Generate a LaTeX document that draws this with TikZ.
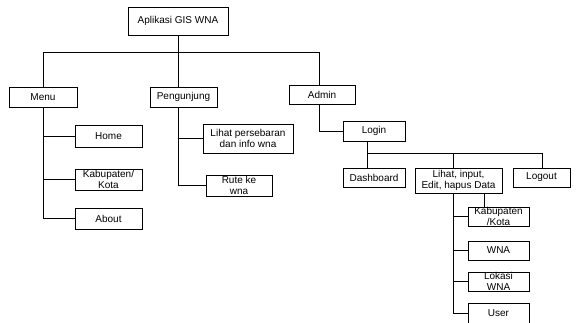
\documentclass[tikz,border=0pt]{standalone}
\usepackage{fontspec}
\setmainfont{Liberation Sans}
\begin{document}
\begin{tikzpicture}[x=1pt,y=-1pt,
  box/.style={draw, line width=1pt, inner sep=0pt, align=center,
    font=\fontsize{10}{11}\selectfont},
  link/.style={line width=1pt}]
\useasboundingbox (0,0) rectangle (576,322);
\node[box, minimum width=100, minimum height=28] (app) at (178,21) {Aplikasi GIS WNA};
\node[box, minimum width=68, minimum height=20] (menu) at (43,97) {Menu};
\node[box, minimum width=67, minimum height=20] (peng) at (183.5,97) {Pengunjung};
\node[box, minimum width=66, minimum height=19] (admin) at (322,94.5) {Admin};
\node[box, minimum width=62, minimum height=20] (login) at (374,131) {Login};
\node[box, minimum width=67, minimum height=22] (home) at (108.5,136) {Home};
\node[box, minimum width=90, minimum height=29] (lihatp) at (248,138.5) {Lihat persebaran\\dan info wna};
\node[box, minimum width=67, minimum height=21] (kab) at (108.5,179.5) {Kabupaten/\\Kota};
\node[box, minimum width=67, minimum height=21] (about) at (108.5,218.5) {About};
\node[box, minimum width=66, minimum height=21] (rute) at (239,185.5) {Rute ke\\wna};
\node[box, minimum width=62, minimum height=19] (dash) at (374,177.5) {Dashboard};
\node[box, minimum width=87, minimum height=25] (lihat) at (458.5,180.5) {Lihat, input,\\Edit, hapus Data};
\node[box, minimum width=57, minimum height=19] (logout) at (541.5,177.5) {Logout};
\node[box, minimum width=61, minimum height=19] (kabk) at (498.5,216.5) {Kabupaten\\/Kota};
\node[box, minimum width=61, minimum height=19] (wna) at (498.5,250.5) {WNA};
\node[box, minimum width=61, minimum height=19] (lok) at (498.5,281.5) {Lokasi\\WNA};
\node[box, minimum width=61, minimum height=20] (user) at (498.5,313) {User};
% top bus
\coordinate (busL) at (43,52);
\coordinate (busR) at (319,52);
\draw[link] (app.south) -- (app.south |- busL);
\draw[link] (menu.north) -- (busL) -- (busR) -- (busR |- admin.north);
\draw[link] (peng.north -| app.south) -- (app.south |- busL);
% menu children
\draw[link] (menu.south) -- (menu.south |- about.west) -- (about.west);
\draw[link] (menu.south |- home.west) -- (home.west);
\draw[link] (menu.south |- kab.west) -- (kab.west);
% pengunjung children
\coordinate (px) at (178,0);
\draw[link] (peng.south -| px) -- (px |- rute.west) -- (rute.west);
\draw[link] (px |- lihatp.west) -- (lihatp.west);
% admin
\draw[link] (admin.south -| busR) -- (busR |- login.west) -- (login.west);
% login bus
\coordinate (lbL) at (367,153);
\coordinate (lbR) at (542,153);
\coordinate (lbM) at (453,153);
\draw[link] (login.south -| lbL) -- (lbL) -- (lbR) -- (lbR |- logout.north);
\draw[link] (lbL) -- (lbL |- dash.north);
\draw[link] (lbM) -- (lbM |- lihat.north);
% lihat children
\coordinate (lx) at (453,0);
\coordinate (lx2) at (484,0);
\draw[link] (lihat.south -| lx) -- (lx |- user.west) -- (user.west);
\draw[link] (lx |- kabk.west) -- (kabk.west);
\draw[link] (lx |- wna.west) -- (wna.west);
\draw[link] (lx |- lok.west) -- (lok.west);
\draw[link] (lihat.south -| lx2) -- (kabk.north -| lx2);
\end{tikzpicture}
\end{document}
